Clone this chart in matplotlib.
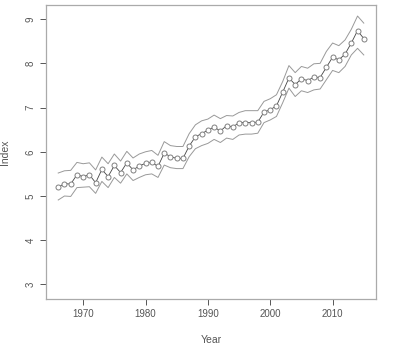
import matplotlib
matplotlib.use("Agg")
from matplotlib import pyplot as plt

years = list(range(1966, 2016))
index = [5.20, 5.28, 5.27, 5.48, 5.44, 5.48, 5.30, 5.60, 5.44, 5.69,
         5.53, 5.75, 5.59, 5.68, 5.74, 5.76, 5.67, 5.97, 5.89, 5.85,
         5.85, 6.13, 6.34, 6.41, 6.49, 6.56, 6.47, 6.59, 6.56, 6.66,
         6.66, 6.66, 6.67, 6.90, 6.95, 7.04, 7.35, 7.67, 7.52, 7.65,
         7.61, 7.69, 7.68, 7.91, 8.14, 8.08, 8.21, 8.46, 8.74, 8.56]
upper = [5.52, 5.57, 5.58, 5.76, 5.73, 5.75, 5.59, 5.88, 5.73, 5.95,
         5.79, 6.01, 5.86, 5.95, 6.00, 6.03, 5.92, 6.23, 6.14, 6.12,
         6.12, 6.41, 6.61, 6.70, 6.74, 6.83, 6.75, 6.82, 6.81, 6.89,
         6.93, 6.93, 6.93, 7.14, 7.20, 7.29, 7.59, 7.95, 7.79, 7.93,
         7.89, 7.99, 8.00, 8.27, 8.46, 8.40, 8.53, 8.77, 9.07, 8.91]
lower = [4.91, 5.00, 4.99, 5.19, 5.20, 5.21, 5.06, 5.33, 5.19, 5.42,
         5.29, 5.50, 5.35, 5.42, 5.48, 5.50, 5.42, 5.70, 5.64, 5.62,
         5.62, 5.89, 6.07, 6.14, 6.19, 6.28, 6.21, 6.31, 6.28, 6.38,
         6.40, 6.40, 6.42, 6.66, 6.72, 6.80, 7.11, 7.44, 7.25, 7.38,
         7.34, 7.40, 7.42, 7.63, 7.84, 7.79, 7.93, 8.19, 8.34, 8.19]

plt.rcParams['font.family'] = ['Liberation Sans', 'DejaVu Sans']

fig = plt.figure(figsize=(4.0, 3.56), dpi=100)
ax = fig.add_axes([0.115, 0.160, 0.825, 0.826])

ax.plot(years, upper, color="#999999", lw=0.7)
ax.plot(years, lower, color="#999999", lw=0.7)
ax.plot(years, index, color="#444444", lw=0.6, marker="o", ms=3.6,
        mfc="white", mec="#808080", mew=0.7)

ax.set_xlim(1964.04, 2016.96)
ax.set_ylim(2.67, 9.32)
ax.set_xticks([1970, 1980, 1990, 2000, 2010])
ax.set_yticks([3, 4, 5, 6, 7, 8, 9])
ax.tick_params(colors="#555555", labelsize=7, length=4, width=0.7, direction="out")
for lab in ax.get_yticklabels():
    lab.set_rotation(90)
    lab.set_va("center")
for s in ax.spines.values():
    s.set_color("#aaaaaa")
    s.set_linewidth(0.9)

ax.set_xlabel("Year", color="#555555", fontsize=7.5, labelpad=11)
ax.set_ylabel("Index", color="#555555", fontsize=7.5, labelpad=11)

fig.savefig("out.png", dpi=100)
